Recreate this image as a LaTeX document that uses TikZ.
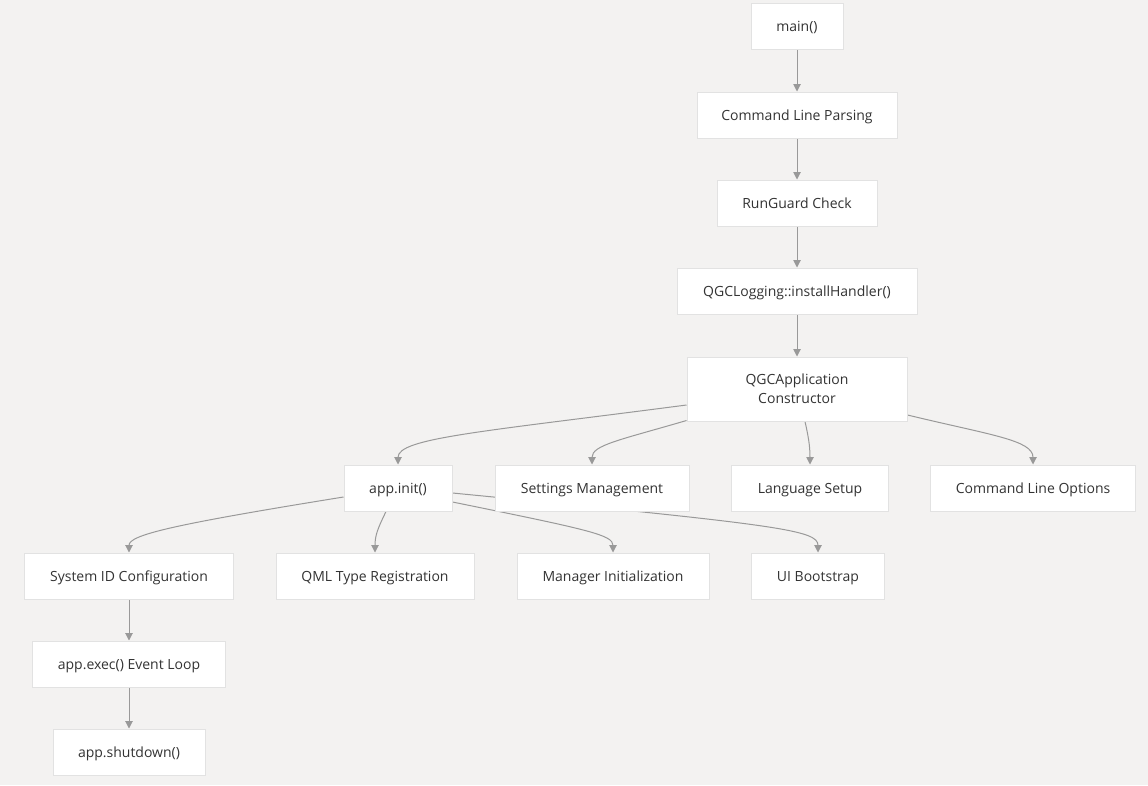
\documentclass[tikz,border=0pt]{standalone}
\usepackage{fontspec}
\setmainfont{Open Sans}
\usetikzlibrary{arrows.meta,calc}
\pgfdeclarelayer{bg}
\pgfdeclarelayer{edges}
\pgfsetlayers{bg,edges,main}
\definecolor{canvas}{HTML}{F3F2F1}
\definecolor{boxline}{HTML}{E2E2E2}
\definecolor{wire}{HTML}{999999}
\definecolor{ink}{HTML}{333333}
\tikzset{
  box/.style={draw=boxline, fill=white, line width=0.75pt, text=ink,
              font=\fontsize{10.5}{14}\selectfont, minimum height=34.5pt,
              minimum width={#1*0.75pt}, inner sep=0pt, align=center,
              text height=8.5pt, text depth=0pt},
  flow/.style={draw=wire, line width=0.75pt, -{Triangle[length=5.5pt,width=5.5pt]}},
}
\begin{document}
\begin{tikzpicture}[x=0.75pt,y=-0.75pt]
  \begin{pgfonlayer}{bg}
    \fill[canvas] (0,0) rectangle (1148,785);
  \end{pgfonlayer}
  \useasboundingbox (0,0) rectangle (1148,785);
  % startup chain
  \node[box=92] (main) at (797,26) {main()};
  \node[box=200] (clp) at (797,115) {Command Line Parsing};
  \node[box=160] (rg) at (797,203) {RunGuard Check};
  \node[box=240] (log) at (797,291) {QGCLogging::installHandler()};
  \node[box=220, minimum height=48pt, text height={}, text depth={}] (qgc) at (797,389)
    {QGCApplication\\Constructor};
  % constructor children
  \node[box=108] (init) at (398,488) {app.init()};
  \node[box=194] (set) at (592,488) {Settings Management};
  \node[box=157] (lang) at (810,488) {Language Setup};
  \node[box=205] (clo) at (1033,488) {Command Line Options};
  % init children
  \node[box=209] (sysid) at (129,576) {System ID Configuration};
  \node[box=198] (qml) at (375,576) {QML Type Registration};
  \node[box=192] (mgr) at (613,576) {Manager Initialization};
  \node[box=133] (ui) at (818,576) {UI Bootstrap};
  \node[box=193] (exec) at (129,664) {app.exec() Event Loop};
  \node[box=152] (shut) at (129,752) {app.shutdown()};
  \begin{pgfonlayer}{edges}
    \draw[flow] (main) -- (clp);
    \draw[flow] (clp) -- (rg);
    \draw[flow] (rg) -- (log);
    \draw[flow] (log) -- (qgc);
    \draw[flow] ($(qgc.west)+(0,16)$) .. controls (480,432) and (398,438) .. (init.north);
    \draw[flow] ($(qgc.south west)+(0,-1)$) .. controls (620,440) and (592,445) .. (set.north);
    \draw[flow] ($(qgc.south)+(8,0)$) .. controls (808,435) and (810,445) .. (lang.north);
    \draw[flow] ($(qgc.east)+(0,26)$) .. controls (990,435) and (1033,440) .. (clo.north);
    \draw[flow] ($(init.west)+(0,9)$) .. controls (170,525) and (129,535) .. (sysid.north);
    \draw[flow] ($(init.south)+(-12,0)$) .. controls (378,528) and (375,535) .. (qml.north);
    \draw[flow] ($(init.east)+(0,14)$) .. controls (590,530) and (613,535) .. (mgr.north);
    \draw[flow] ($(init.east)+(0,5)$) .. controls (780,525) and (818,530) .. (ui.north);
    \draw[flow] (sysid) -- (exec);
    \draw[flow] (exec) -- (shut);
  \end{pgfonlayer}
\end{tikzpicture}
\end{document}
